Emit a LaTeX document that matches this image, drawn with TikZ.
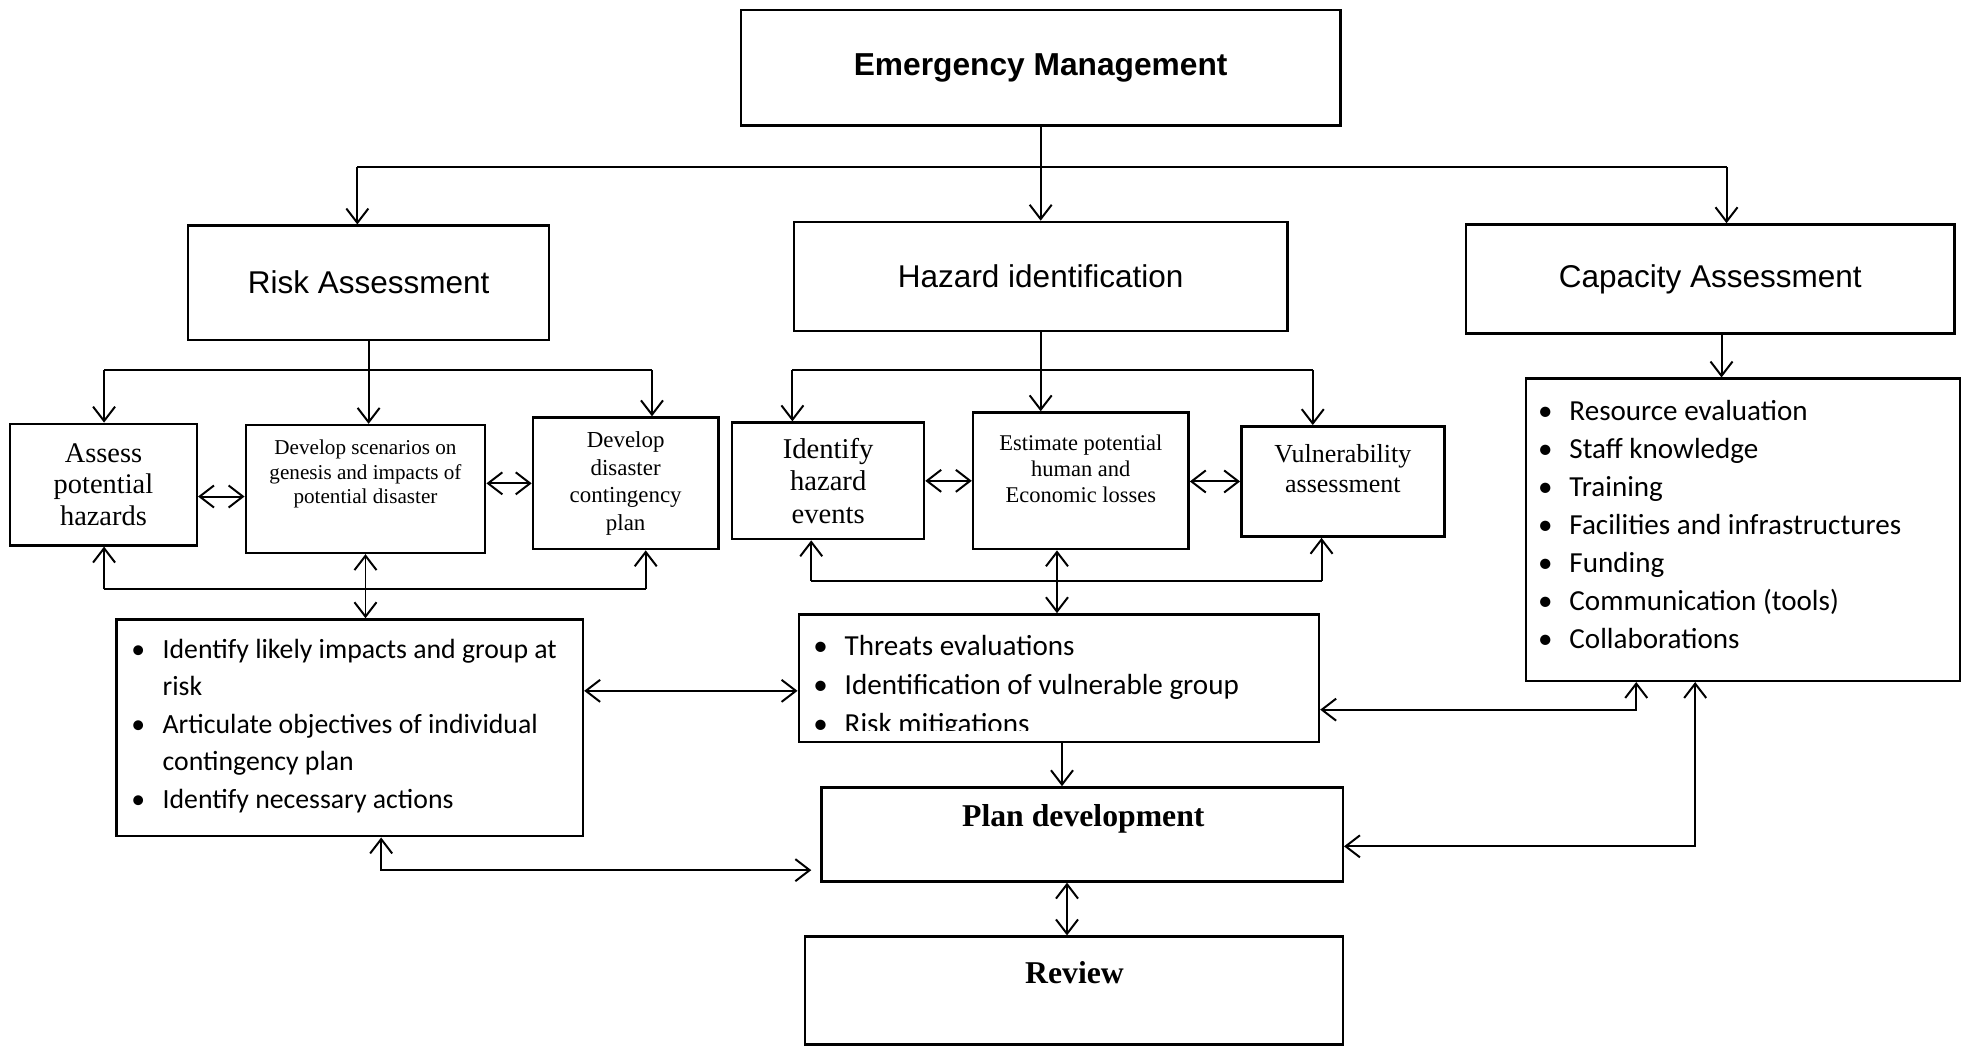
\documentclass[tikz,border=0pt]{standalone}
\usepackage{fontspec}
\setmainfont{Liberation Serif}
\newfontfamily\headfont{Liberation Sans}
\newfontfamily\listfont{Carlito}
\usetikzlibrary{arrows.meta}

\newcommand{\bul}{\makebox[14.2pt][l]{\textbullet}}
\newcommand{\hang}{\hspace*{14.2pt}}

\begin{document}
\begin{tikzpicture}[x=0.02cm, y=-0.02cm, line width=0.9pt,
    >={Straight Barb[length=6.5pt,width=10pt]},
    box/.style={draw, line width=1.1pt, inner sep=0pt, align=center},
    head/.style={box, font=\headfont\fontsize{14.3}{17}\selectfont},
    txt/.style={inner sep=0pt, align=center},
    items/.style={inner sep=0pt, anchor=base west}]
    \useasboundingbox (0,0) rectangle (1568,837);

    % Top level
    \node[head, font=\headfont\bfseries\fontsize{14.4}{17}\selectfont,
          minimum width=9.56cm, minimum height=1.84cm] (em) at (830,54) {Emergency Management};
    \node[head, minimum width=5.76cm, minimum height=1.82cm] (risk) at (294,225.5) {Risk Assessment};
    \node[head, minimum width=7.88cm, minimum height=1.74cm] (hazard) at (830,220.5) {Hazard identification};
    \node[head, minimum width=7.80cm, minimum height=1.74cm] (capacity) at (1364,222.5) {Capacity Assessment};

    \coordinate (em-l) at (285,133);
    \coordinate (em-r) at (1377,133);
    \draw[->] (em.south) -- (hazard.north);
    \draw (em-l) -- (em-r);
    \draw[->] (em-l) -- (em-l |- risk.north);
    \draw[->] (em-r) -- (em-r |- capacity.north);

    % Risk assessment steps
    \node[box, minimum width=2.98cm, minimum height=1.94cm,
          font=\fontsize{12.9}{14.2}\selectfont] (assess) at (82.5,386.5) {Assess\\potential\\hazards};
    \node[box, minimum width=3.82cm, minimum height=2.04cm] (scen) at (291.5,390) {};
    \node[txt, font=\fontsize{9.6}{11.3}\selectfont] (scen-t) at (291.5,378)
        {Develop scenarios on\\genesis and impacts of\\potential disaster};
    \node[box, minimum width=2.96cm, minimum height=2.10cm,
          font=\fontsize{10.4}{12.5}\selectfont] (disaster) at (499,385.5) {Develop\\disaster\\contingency\\plan};

    \coordinate (ra-l) at (83,295);
    \coordinate (ra-r) at (520,295);
    \draw[->] (risk.south) -- (risk.south |- scen.north);
    \draw (ra-l) -- (ra-r);
    \draw[->] (ra-l) -- (ra-l |- assess.north);
    \draw[->] (ra-r) -- (ra-r |- disaster.north);
    \coordinate (ra-m) at (0,396);
    \draw[<->] (assess.east |- ra-m) -- (scen.west |- ra-m);
    \draw[<->] (scen.east |- disaster.west) -- (disaster.west);

    % Hazard identification steps
    \node[box, minimum width=3.06cm, minimum height=1.86cm,
          font=\fontsize{13}{14.7}\selectfont] (identify) at (660.5,383.5) {Identify\\hazard\\events};
    \node[box, minimum width=3.44cm, minimum height=2.18cm] (estimate) at (862,383.5) {};
    \node[txt, font=\fontsize{10.2}{11.9}\selectfont] (estimate-t) at (862,374)
        {Estimate potential\\human and\\Economic losses};
    \node[box, minimum width=3.24cm, minimum height=1.76cm] (vuln) at (1071,384) {};
    \node[txt, font=\fontsize{11.8}{13.6}\selectfont] (vuln-t) at (1071,374)
        {Vulnerability\\assessment};

    \coordinate (hz-l) at (632,295);
    \coordinate (hz-r) at (1047,295);
    \draw[->] (hazard.south) -- (hazard.south |- estimate.north);
    \draw (hz-l) -- (hz-r);
    \draw[->] (hz-l) -- (hz-l |- identify.north);
    \draw[->] (hz-r) -- (hz-r |- vuln.north);
    \draw[<->] (identify.east) -- (identify.east -| estimate.west);
    \draw[<->] (vuln.west -| estimate.east) -- (vuln.west);

    % Capacity list
    \node[box, minimum width=6.92cm, minimum height=4.82cm] (resources) at (1390,422.5) {};
    \node[items, font=\listfont\fontsize{13.2}{17.25}\selectfont] (resources-t) at (1226,335)
        {\begin{tabular}[t]{@{}l@{}}
         \bul Resource evaluation\\
         \bul Staff knowledge\\
         \bul Training\\
         \bul Facilities and infrastructures\\
         \bul Funding\\
         \bul Communication (tools)\\
         \bul Collaborations
         \end{tabular}};
    \coordinate (ca-d) at (1373,0);
    \draw[->] (ca-d |- capacity.south) -- (ca-d |- resources.north);

    % Lower boxes
    \node[box, minimum width=7.44cm, minimum height=3.46cm] (impacts) at (279,580.5) {};
    \node[items, font=\listfont\fontsize{12.6}{17}\selectfont] (impacts-t) at (104,525)
        {\begin{tabular}[t]{@{}l@{}}
         \bul Identify likely impacts and group at\\
         \hang risk\\
         \bul Articulate objectives of individual\\
         \hang contingency plan\\
         \bul Identify necessary actions
         \end{tabular}};

    \node[box, minimum width=8.30cm, minimum height=2.04cm] (threats) at (844.5,541) {};
    \begin{scope}
        \clip (637,490) rectangle (1052,583);
        \node[items, font=\listfont\fontsize{13.2}{17.6}\selectfont] (threats-t) at (648,523)
            {\begin{tabular}[t]{@{}l@{}}
             \bul Threats evaluations\\
             \bul Identification of vulnerable group\\
             \bul Risk mitigations
             \end{tabular}};
    \end{scope}

    \node[box, minimum width=8.32cm, minimum height=1.50cm] (plan) at (863,665.5) {};
    \node[txt, font=\bfseries\fontsize{14.4}{17}\selectfont] (plan-t) at (864,653) {Plan development};
    \node[box, minimum width=8.58cm, minimum height=1.72cm] (review) at (856.5,790) {};
    \node[txt, font=\bfseries\fontsize{14.4}{17}\selectfont] (review-t) at (857,776) {Review};

    % Links below the steps
    \coordinate (rb-l) at (83,470);
    \coordinate (rb-r) at (515,470);
    \draw (rb-l) -- (rb-r);
    \draw[->] (rb-l) -- (rb-l |- assess.south);
    \draw[->] (rb-r) -- (rb-r |- disaster.south);
    \draw[<->] (scen.south) -- (scen.south |- impacts.north);

    \coordinate (hb-l) at (647,463);
    \coordinate (hb-r) at (1054,463);
    \coordinate (hb-m) at (843,0);
    \draw (hb-l) -- (hb-r);
    \draw[->] (hb-l) -- (hb-l |- identify.south);
    \draw[->] (hb-r) -- (hb-r |- vuln.south);
    \draw[<->] (hb-m |- estimate.south) -- (hb-m |- threats.north);

    \coordinate (it) at (0,551);
    \draw[<->] (impacts.east |- it) -- (threats.west |- it);
    \coordinate (ip) at (304,694);
    \draw[<->, shorten >=4pt] (ip |- impacts.south) -- (ip) -- (ip -| plan.west);
    \coordinate (tp) at (847,0);
    \draw[->] (tp |- threats.south) -- (tp |- plan.north);
    \coordinate (pr) at (851,0);
    \draw[<->] (pr |- plan.south) -- (pr |- review.north);
    \coordinate (tr) at (1305,566);
    \draw[<->] (threats.east |- tr) -- (tr) -- (tr |- resources.south);
    \coordinate (pc) at (1352,675);
    \draw[<->] (plan.east |- pc) -- (pc) -- (pc |- resources.south);
\end{tikzpicture}
\end{document}
